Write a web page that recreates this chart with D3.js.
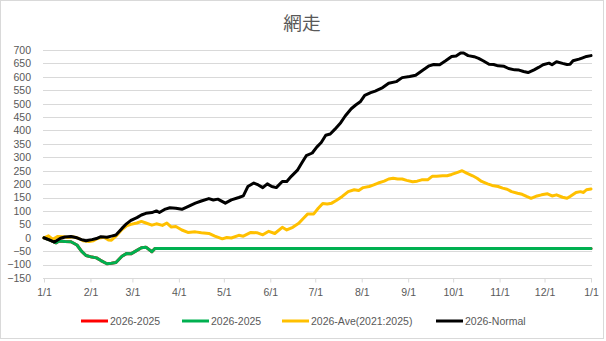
<!DOCTYPE html>
<html><head><meta charset="utf-8">
<script src="https://cdn.jsdelivr.net/npm/d3@7"></script>
<style>body{margin:0;background:#fff}svg{display:block}</style>
</head><body><svg id="c" width="606" height="341"></svg>
<script>
const title = "網走";
const seriesNames = ["2026-2025", "2026-2025", "2026-Ave(2021:2025)", "2026-Normal"];
const seriesColors = ["#FF0000", "#00B050", "#FFC000", "#000000"];
const yTicks = [-150,-100,-50,0,50,100,150,200,250,300,350,400,450,500,550,600,650,700];
// day offsets from 2026-01-01
const greenDays = [0,4,8,10,14,18,22,25,28,32,35,38,42,45,48,52,55,58,62,65,68,72,74,365];
const greenVals = [0,-9,-19,-12,-14,-15,-27,-50,-66,-72,-75,-85,-97,-95,-92,-69,-59,-60,-47,-37,-35,-52,-40,-40];
const redDays = greenDays.slice();
const redVals = greenVals.slice();
const aveDays = [0,3,6,9,13,16,19,23,26,30,33,36,40,43,45,48,52,55,58,62,65,68,72,75,79,82,85,88,92,96,101,105,110,114,119,122,125,130,133,138,142,146,150,154,159,162,166,170,173,176,180,183,186,189,192,195,199,203,207,210,213,217,220,223,227,230,233,236,239,242,246,249,252,256,259,262,266,269,272,276,279,282,286,289,292,296,299,303,306,309,312,316,319,322,325,329,332,336,339,342,346,349,351,355,358,360,362,365];
const aveVals = [0,7,-6,5,4,1,4,-2,-11,-14,-11,-2,2,-8,-9,6,31,44,50,55,61,55,47,52,46,55,40,42,29,20,22,19,16,6,-4,1,-1,9,6,20,19,11,24,16,39,29,39,54,72,89,89,110,128,126,129,139,154,172,179,176,187,191,197,204,211,219,222,219,219,214,209,211,216,216,229,229,231,231,236,244,250,241,231,222,210,201,195,191,185,181,172,166,162,154,147,156,160,164,156,160,151,147,154,169,172,169,179,182];
const normDays = [0,4,7,11,14,18,22,25,28,32,35,38,42,45,48,52,55,58,62,65,68,72,75,77,81,84,88,92,96,101,105,110,113,116,121,125,130,133,136,140,143,146,149,152,155,159,162,165,169,172,175,179,182,185,188,191,194,198,201,205,208,211,214,218,221,226,230,235,239,244,248,252,257,260,264,268,272,275,278,280,283,287,290,293,297,300,303,307,310,314,317,320,323,327,330,333,337,339,342,346,349,351,353,357,359,362,365];
const normVals = [0,-9,-16,-2,3,5,0,-7,-11,-7,-3,4,2,6,10,35,52,65,75,85,91,94,100,94,107,112,110,106,116,129,137,146,141,144,129,141,150,156,191,204,197,187,201,191,187,210,210,229,251,279,306,316,338,355,382,387,404,429,454,481,495,507,531,541,547,560,576,582,597,601,606,622,641,646,645,660,676,678,689,689,679,675,669,660,647,646,641,639,631,626,625,620,616,626,635,645,651,645,656,650,646,647,660,666,670,676,679];

const start = new Date(Date.UTC(2026,0,1));
const end = new Date(Date.UTC(2027,0,1));
const svg = d3.select("#c");
const font = "'Liberation Sans', Arial, sans-serif";
const grey = "#595959";

svg.append("rect").attr("x",0.5).attr("y",0.5).attr("width",603).attr("height",338)
  .attr("fill","#fff").attr("stroke","#D9D9D9");

const x = d3.scaleUtc().domain([start,end]).range([44,591]);
const y = d3.scaleLinear().domain([-150,700]).range([278,50]);

// gridlines
svg.append("g").selectAll("line").data(yTicks.filter(v=>v!==-150)).join("line")
  .attr("x1",43).attr("x2",592).attr("y1",d=>Math.round(y(d))+0.5).attr("y2",d=>Math.round(y(d))+0.5)
  .attr("stroke","#D9D9D9").attr("stroke-width",1);

// y axis labels
const yAxis = d3.axisLeft(y).tickValues(yTicks).tickSize(0).tickPadding(0);
const gy = svg.append("g").attr("transform","translate(31,0)").call(yAxis);
gy.select(".domain").remove();
gy.selectAll("text").attr("font-family",font).attr("font-size","10.5px").attr("fill",grey);

// x axis
const months = d3.utcMonth.range(start, d3.utcDay.offset(end,1));
const xAxis = d3.axisBottom(x).tickValues(months).tickFormat(d3.utcFormat("%-m/%-d")).tickSize(4).tickPadding(6);
const gx = svg.append("g").attr("transform",`translate(0,${Math.round(y(-150))+0.5})`).call(xAxis);
gx.select(".domain").attr("stroke","#D9D9D9").attr("d","M43,0H592");
gx.selectAll(".tick line").attr("stroke","#D9D9D9");
gx.selectAll("text").attr("font-family",font).attr("font-size","10.5px").attr("fill",grey);

// lines
const series = [[redDays,redVals],[greenDays,greenVals],[aveDays,aveVals],[normDays,normVals]];
const line = d3.line().x(d=>x(d3.utcDay.offset(start,d[0]))).y(d=>y(d[1])).curve(d3.curveLinear);
series.forEach((s,i)=>{
  const pts = s[0].map((d,j)=>[d,s[1][j]]);
  svg.append("path").datum(pts).attr("d",line).attr("fill","none")
    .attr("stroke",seriesColors[i]).attr("stroke-width",3).attr("stroke-linejoin","round").attr("stroke-linecap","round");
});

// title
svg.append("text").attr("x",302).attr("y",30).attr("text-anchor","middle")
  .attr("font-family","'Noto Sans CJK JP', sans-serif").attr("font-size","18.7px").attr("fill",grey).text(title);

// legend
const legX = [81,182,282,436];
const lg = svg.append("g");
seriesNames.forEach((n,i)=>{
  lg.append("line").attr("x1",legX[i]).attr("x2",legX[i]+27).attr("y1",321).attr("y2",321)
    .attr("stroke",seriesColors[i]).attr("stroke-width",3);
  lg.append("text").attr("x",legX[i]+29).attr("y",325).attr("font-family",font).attr("font-size","10.5px")
    .attr("fill",grey).text(n);
});
</script></body></html>
